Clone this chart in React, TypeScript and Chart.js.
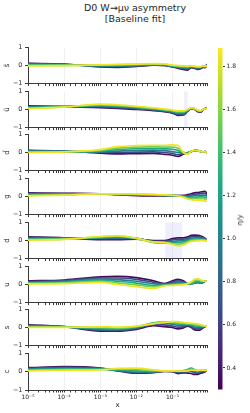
import React, { useEffect, useRef } from 'react';
import { Chart, registerables } from 'chart.js';
Chart.register(...registerables);

// ---------- data ----------
const X_VALUES = [1e-5, 1e-4, 1e-3, 3e-3, 1e-2, 3e-2, 0.06, 0.1, 0.14, 0.2, 0.26, 0.33, 0.4, 0.5, 0.6, 0.7, 0.8, 0.9];
const ETA_VALUES = [0.35, 0.65, 0.95, 1.25, 1.55, 1.85];
const ETA_MIN = 0.3;
const ETA_MAX = 1.885;
const PANEL_LABELS = ['s\u0304', 'u\u0304', 'd\u0304', 'g', 'd', 'u', 's', 'c'];
const Y_TICKS = [-1, 0, 1];
const CB_TICKS = [0.4, 0.6, 0.8, 1.0, 1.2, 1.4, 1.6, 1.8];
const X_MAJOR_LABELS: Record<number, string> = { [-5]: '10⁻⁵', [-4]: '10⁻⁴', [-3]: '10⁻³', [-2]: '10⁻²', [-1]: '10⁻¹' };

const SBAR = [
  [0.12, 0.08, -0.08, -0.1, -0.05, 0.02, 0.0, -0.08, -0.15, -0.22, -0.25, -0.12, -0.15, -0.22, -0.18, -0.1, -0.12, 0.08],
  [0.1, 0.07, -0.05, -0.07, -0.03, 0.03, 0.01, -0.06, -0.12, -0.18, -0.2, -0.1, -0.12, -0.18, -0.15, -0.08, -0.1, 0.05],
  [0.07, 0.05, -0.02, -0.03, 0.0, 0.05, 0.03, -0.04, -0.09, -0.13, -0.14, -0.07, -0.1, -0.14, -0.12, -0.06, -0.08, 0.03],
  [0.04, 0.03, 0.0, 0.01, 0.03, 0.06, 0.05, -0.02, -0.06, -0.09, -0.1, -0.05, -0.08, -0.1, -0.09, -0.05, -0.06, 0.0],
  [0.01, 0.01, 0.02, 0.04, 0.06, 0.08, 0.07, 0.0, -0.03, -0.05, -0.06, -0.03, -0.06, -0.08, -0.07, -0.04, -0.05, -0.02],
  [-0.02, -0.01, 0.03, 0.06, 0.08, 0.1, 0.09, 0.02, 0.0, -0.02, -0.03, -0.02, -0.04, -0.06, -0.06, -0.03, -0.04, -0.04],
];
const UBAR = [
  [0.2, 0.16, 0.1, 0.06, 0.0, -0.06, -0.12, -0.2, -0.32, -0.3, -0.1, 0.05, 0.02, -0.12, -0.15, -0.02, 0.05, 0.12],
  [0.17, 0.16, 0.14, 0.1, 0.04, -0.03, -0.1, -0.17, -0.27, -0.26, -0.08, 0.06, 0.03, -0.1, -0.13, -0.02, 0.05, 0.1],
  [0.14, 0.16, 0.18, 0.14, 0.08, 0.0, -0.07, -0.14, -0.22, -0.22, -0.06, 0.07, 0.04, -0.08, -0.11, -0.01, 0.05, 0.09],
  [0.11, 0.15, 0.22, 0.18, 0.12, 0.03, -0.04, -0.1, -0.17, -0.17, -0.04, 0.08, 0.05, -0.06, -0.09, 0.0, 0.05, 0.08],
  [0.08, 0.14, 0.26, 0.22, 0.15, 0.06, -0.01, -0.06, -0.12, -0.12, -0.02, 0.08, 0.06, -0.05, -0.08, 0.0, 0.05, 0.07],
  [0.05, 0.13, 0.3, 0.26, 0.18, 0.09, 0.02, -0.03, -0.08, -0.08, 0.0, 0.09, 0.06, -0.04, -0.07, 0.0, 0.04, 0.06],
];
const DBAR = [
  [0.12, 0.08, -0.04, -0.08, -0.06, -0.05, -0.1, -0.15, -0.22, -0.1, -0.02, 0.05, 0.1, 0.1, 0.05, 0.02, 0.05, -0.02],
  [0.1, 0.07, 0.0, 0.0, 0.02, 0.03, 0.0, -0.05, -0.12, -0.06, -0.02, 0.05, 0.1, 0.1, 0.05, 0.02, 0.05, -0.02],
  [0.08, 0.06, 0.04, 0.08, 0.12, 0.13, 0.1, 0.05, 0.0, -0.02, -0.03, 0.06, 0.1, 0.1, 0.06, 0.03, 0.05, -0.02],
  [0.05, 0.05, 0.08, 0.16, 0.22, 0.23, 0.2, 0.18, 0.12, 0.0, -0.05, 0.06, 0.1, 0.1, 0.06, 0.03, 0.05, -0.02],
  [0.03, 0.04, 0.12, 0.24, 0.3, 0.32, 0.3, 0.3, 0.25, 0.0, -0.07, 0.06, 0.11, 0.1, 0.06, 0.03, 0.05, -0.02],
  [0.0, 0.03, 0.16, 0.32, 0.38, 0.4, 0.4, 0.42, 0.4, 0.0, -0.1, 0.07, 0.11, 0.1, 0.06, 0.03, 0.05, -0.02],
];
const GLUON = [
  [0.2, 0.18, 0.15, 0.1, 0.05, 0.04, 0.04, 0.05, 0.05, 0.06, 0.1, 0.15, 0.2, 0.22, 0.25, 0.27, 0.28, 0.15],
  [0.16, 0.16, 0.15, 0.11, 0.07, 0.06, 0.05, 0.05, 0.05, 0.04, 0.05, 0.08, 0.12, 0.14, 0.16, 0.18, 0.18, 0.08],
  [0.13, 0.14, 0.15, 0.12, 0.09, 0.07, 0.06, 0.05, 0.04, 0.02, 0.0, 0.02, 0.04, 0.06, 0.07, 0.08, 0.08, 0.0],
  [0.1, 0.12, 0.15, 0.13, 0.1, 0.08, 0.07, 0.06, 0.04, 0.0, -0.05, -0.05, -0.04, -0.03, -0.02, -0.02, -0.04, -0.08],
  [0.07, 0.1, 0.15, 0.14, 0.12, 0.1, 0.08, 0.06, 0.04, -0.02, -0.1, -0.12, -0.12, -0.12, -0.12, -0.12, -0.14, -0.16],
  [0.04, 0.08, 0.15, 0.15, 0.14, 0.11, 0.09, 0.07, 0.04, -0.04, -0.14, -0.18, -0.2, -0.22, -0.22, -0.23, -0.25, -0.25],
];
const DOWN = [
  [0.2, 0.15, 0.05, 0.05, 0.08, 0.0, 0.0, 0.1, 0.15, 0.15, 0.2, 0.28, 0.3, 0.28, 0.25, 0.2, 0.12, 0.02],
  [0.16, 0.14, 0.1, 0.1, 0.1, -0.05, -0.05, 0.03, 0.07, 0.08, 0.12, 0.2, 0.22, 0.2, 0.18, 0.15, 0.09, 0.01],
  [0.12, 0.12, 0.13, 0.15, 0.12, -0.08, -0.1, -0.05, -0.02, 0.0, 0.05, 0.13, 0.15, 0.14, 0.12, 0.1, 0.06, 0.0],
  [0.08, 0.1, 0.16, 0.2, 0.12, -0.1, -0.12, -0.12, -0.1, -0.08, -0.02, 0.06, 0.08, 0.08, 0.07, 0.06, 0.03, 0.0],
  [0.05, 0.08, 0.2, 0.24, 0.12, -0.1, -0.12, -0.18, -0.2, -0.16, -0.08, 0.0, 0.02, 0.03, 0.03, 0.02, 0.01, -0.01],
  [0.02, 0.06, 0.22, 0.27, 0.12, -0.08, -0.1, -0.22, -0.3, -0.25, -0.14, -0.05, -0.03, -0.02, -0.01, -0.01, -0.01, -0.02],
];
const UP = [
  [0.2, 0.25, 0.42, 0.45, 0.38, 0.2, 0.05, 0.2, 0.28, 0.2, 0.05, 0.08, 0.12, 0.15, 0.1, 0.12, 0.18, 0.2],
  [0.16, 0.21, 0.36, 0.36, 0.28, 0.12, 0.02, 0.13, 0.2, 0.15, 0.04, 0.05, 0.1, 0.12, 0.08, 0.12, 0.18, 0.2],
  [0.12, 0.17, 0.3, 0.27, 0.18, 0.04, -0.01, 0.07, 0.12, 0.1, 0.02, 0.03, 0.07, 0.1, 0.07, 0.12, 0.18, 0.19],
  [0.09, 0.13, 0.24, 0.18, 0.08, -0.05, -0.03, 0.02, 0.05, 0.05, 0.02, 0.05, 0.12, 0.16, 0.13, 0.15, 0.19, 0.19],
  [0.06, 0.09, 0.18, 0.09, -0.02, -0.13, -0.05, -0.02, 0.0, 0.01, 0.03, 0.1, 0.2, 0.25, 0.2, 0.18, 0.19, 0.18],
  [0.03, 0.05, 0.12, 0.0, -0.12, -0.22, -0.07, -0.05, -0.03, -0.01, 0.05, 0.15, 0.28, 0.32, 0.26, 0.2, 0.19, 0.17],
];
const STRANGE = [
  [0.15, 0.05, -0.2, -0.2, -0.1, 0.1, 0.05, 0.0, -0.08, -0.02, 0.08, 0.0, -0.12, -0.15, -0.12, -0.02, 0.05, 0.08],
  [0.12, 0.05, -0.15, -0.16, -0.06, 0.16, 0.15, 0.08, 0.02, 0.05, 0.12, 0.05, -0.05, -0.08, -0.06, 0.0, 0.06, 0.08],
  [0.09, 0.04, -0.1, -0.12, -0.02, 0.22, 0.25, 0.18, 0.12, 0.12, 0.15, 0.1, 0.03, 0.0, 0.0, 0.03, 0.07, 0.08],
  [0.06, 0.03, -0.05, -0.08, 0.02, 0.26, 0.3, 0.25, 0.2, 0.18, 0.18, 0.15, 0.1, 0.07, 0.06, 0.06, 0.08, 0.08],
  [0.03, 0.02, 0.0, -0.03, 0.05, 0.24, 0.3, 0.3, 0.26, 0.23, 0.21, 0.2, 0.16, 0.13, 0.11, 0.09, 0.08, 0.08],
  [0.0, 0.01, 0.04, 0.02, 0.08, 0.2, 0.28, 0.33, 0.32, 0.28, 0.24, 0.24, 0.22, 0.2, 0.16, 0.12, 0.09, 0.08],
];
const CHARM = [
  [0.22, 0.28, 0.2, 0.05, -0.08, -0.05, 0.02, 0.0, -0.1, -0.06, -0.08, -0.1, -0.15, -0.15, -0.08, -0.05, 0.0, 0.1],
  [0.18, 0.24, 0.18, 0.06, -0.05, -0.03, 0.03, 0.02, -0.05, -0.02, 0.0, 0.02, -0.05, -0.08, -0.03, 0.0, 0.03, 0.1],
  [0.15, 0.2, 0.16, 0.08, -0.02, -0.01, 0.04, 0.04, 0.0, 0.03, 0.08, 0.12, 0.05, -0.02, 0.02, 0.04, 0.05, 0.1],
  [0.11, 0.16, 0.14, 0.1, 0.04, 0.02, 0.04, 0.05, 0.03, 0.06, 0.12, 0.2, 0.12, 0.04, 0.06, 0.07, 0.06, 0.1],
  [0.08, 0.12, 0.12, 0.14, 0.12, 0.06, 0.05, 0.05, 0.04, 0.05, 0.08, 0.14, 0.1, 0.06, 0.08, 0.08, 0.07, 0.1],
  [0.05, 0.08, 0.1, 0.18, 0.2, 0.1, 0.05, 0.05, 0.04, 0.03, 0.04, 0.08, 0.08, 0.07, 0.09, 0.09, 0.08, 0.1],
];
const PANELS = [SBAR, UBAR, DBAR, GLUON, DOWN, UP, STRANGE, CHARM];
const BANDS: (number[] | null)[] = [null, [0.21, 0.26], null, null, [0.063, 0.185], null, null, null];

// ---------- style ----------
const FONT = 'DejaVu Sans';
const TEXT = '#262626';
const SPINE = '#3a3a3a';
const VIRIDIS = ['#440154', '#482475', '#414487', '#355f8d', '#2a788e', '#21918c', '#22a884', '#44bf70', '#7ad151', '#bddf26', '#fde725'];

function hexToRgb(h: string) {
  return [parseInt(h.slice(1, 3), 16), parseInt(h.slice(3, 5), 16), parseInt(h.slice(5, 7), 16)];
}
function viridis(t: number) {
  const c = Math.max(0, Math.min(1, t)) * (VIRIDIS.length - 1);
  const i = Math.min(VIRIDIS.length - 2, Math.floor(c));
  const f = c - i;
  const a = hexToRgb(VIRIDIS[i]);
  const b = hexToRgb(VIRIDIS[i + 1]);
  const m = a.map((v, k) => Math.round(v + (b[k] - v) * f));
  return `rgb(${m[0]},${m[1]},${m[2]})`;
}

const PLOT_TOP0 = 47;
const PANEL_STEP = 43.7;
const PLOT_H = 37;
const PAD_TOP = 6;
const PLOT_LEFT = 28;
const PLOT_RIGHT = 207;
const CANVAS_W = 215;

const bandPlugin = {
  id: 'band',
  beforeDatasetsDraw(chart: any, _args: any, opts: any) {
    const r = opts && opts.range;
    if (!r) return;
    const { ctx, chartArea, scales } = chart;
    const x0 = scales.x.getPixelForValue(r[0]);
    const x1 = scales.x.getPixelForValue(r[1]);
    ctx.save();
    ctx.fillStyle = 'rgba(120,120,240,0.13)';
    ctx.fillRect(x0, chartArea.top, x1 - x0, chartArea.bottom - chartArea.top);
    ctx.restore();
  },
};

function isMajor(v: number) {
  const l = Math.log10(v);
  return Math.abs(l - Math.round(l)) < 1e-6;
}

function Panel({ index }: { index: number }) {
  const ref = useRef<HTMLCanvasElement>(null);
  const isBottom = index === PANELS.length - 1;
  const xAxisH = isBottom ? 24 : 6;
  const h = PAD_TOP + PLOT_H + xAxisH;
  const top = Math.round(PLOT_TOP0 + PANEL_STEP * index) - PAD_TOP;

  useEffect(() => {
    const rows = PANELS[index];
    const datasets = rows
      .map((row, k) => ({
        data: X_VALUES.map((x, j) => ({ x, y: row[j] })),
        borderColor: viridis((ETA_VALUES[k] - ETA_MIN) / (ETA_MAX - ETA_MIN)),
        borderWidth: 1.7,
        pointRadius: 0,
        cubicInterpolationMode: 'monotone',
        fill: false,
      }))
      .reverse();
    const chart = new Chart(ref.current as HTMLCanvasElement, {
      type: 'line',
      data: { datasets } as any,
      plugins: [bandPlugin as any],
      options: {
        responsive: false,
        animation: false,
        events: [],
        layout: { padding: { top: PAD_TOP, right: CANVAS_W - PLOT_RIGHT, left: 0, bottom: 0 } },
        plugins: {
          legend: { display: false },
          tooltip: { enabled: false },
          band: { range: BANDS[index] },
        } as any,
        scales: {
          x: {
            type: 'logarithmic',
            min: 1e-5,
            max: 0.9,
            afterFit: (s: any) => { s.height = xAxisH; },
            border: { display: true, color: SPINE, width: 1 },
            grid: {
              drawOnChartArea: true,
              color: (ctx: any) => (ctx.tick && isMajor(ctx.tick.value) ? 'rgba(0,0,0,0.06)' : 'rgba(0,0,0,0)'),
              tickColor: SPINE,
              tickLength: 2.5,
              lineWidth: 1,
            },
            ticks: {
              autoSkip: false,
              maxRotation: 0,
              padding: 1,
              color: TEXT,
              font: { family: FONT, size: 6 },
              callback: (v: any) => {
                if (!isBottom) return '';
                const n = Number(v);
                return isMajor(n) ? X_MAJOR_LABELS[Math.round(Math.log10(n))] || '' : '';
              },
            },
            title: {
              display: isBottom,
              text: 'x',
              color: TEXT,
              font: { family: FONT, size: 7 },
              padding: { top: 0, bottom: 5 },
            },
          },
          y: {
            min: -1,
            max: 1,
            afterFit: (s: any) => { s.width = PLOT_LEFT; },
            afterBuildTicks: (s: any) => { s.ticks = Y_TICKS.map((v) => ({ value: v })); },
            border: { display: true, color: SPINE, width: 1 },
            grid: { drawOnChartArea: false, tickColor: SPINE, tickLength: 3 },
            ticks: {
              padding: 2.5,
              color: TEXT,
              font: { family: FONT, size: 6.5 },
              callback: (v: any) => (Number(v) < 0 ? '\u2212' + Math.abs(Number(v)) : String(v)),
            },
            title: {
              display: true,
              text: PANEL_LABELS[index],
              color: TEXT,
              font: { family: FONT, size: 7 },
              padding: { top: 3, bottom: 0 },
            },
          },
        },
      } as any,
    });
    return () => chart.destroy();
  }, [index]);

  return (
    <canvas
      ref={ref}
      width={CANVAS_W}
      height={h}
      style={{ position: 'absolute', left: 0, top, width: CANVAS_W, height: h }}
    />
  );
}

const gradientPlugin = {
  id: 'cbgrad',
  beforeDatasetsDraw(chart: any) {
    const { ctx, chartArea } = chart;
    const g = ctx.createLinearGradient(0, chartArea.bottom, 0, chartArea.top);
    VIRIDIS.forEach((c, i) => g.addColorStop(i / (VIRIDIS.length - 1), c));
    ctx.save();
    ctx.fillStyle = g;
    ctx.fillRect(chartArea.left, chartArea.top, chartArea.right - chartArea.left, chartArea.bottom - chartArea.top);
    ctx.restore();
  },
};

function ColorBar() {
  const ref = useRef<HTMLCanvasElement>(null);
  const W = 38;
  const H = 360;
  useEffect(() => {
    const chart = new Chart(ref.current as HTMLCanvasElement, {
      type: 'scatter',
      data: { datasets: [{ data: [] }] },
      plugins: [gradientPlugin as any],
      options: {
        responsive: false,
        animation: false,
        events: [],
        layout: { padding: { top: 8, bottom: 10.5, left: 6, right: 0 } },
        plugins: { legend: { display: false }, tooltip: { enabled: false } },
        scales: {
          x: { display: false, min: 0, max: 1 },
          y: {
            position: 'right',
            min: ETA_MIN,
            max: ETA_MAX,
            afterFit: (s: any) => { s.width = 27.5; },
            afterBuildTicks: (s: any) => { s.ticks = CB_TICKS.map((v) => ({ value: v })); },
            border: { display: false },
            grid: { drawOnChartArea: false, tickColor: SPINE, tickLength: 2.5 },
            ticks: {
              padding: 1.5,
              color: TEXT,
              font: { family: FONT, size: 6 },
              callback: (v: any) => Number(v).toFixed(1),
            },
          },
        },
      } as any,
    });
    return () => chart.destroy();
  }, []);
  return (
    <canvas ref={ref} width={W} height={H} style={{ position: 'absolute', left: 212, top: 40, width: W, height: H }} />
  );
}

export default function App() {
  return (
    <div style={{ position: 'fixed', left: 0, top: 0, width: 250, height: 413, background: '#fff', fontFamily: FONT, overflow: 'hidden' }}>
      <div style={{ position: 'absolute', left: 10, top: 3, width: 250, textAlign: 'center', fontSize: 9.5, lineHeight: '10.5px', color: TEXT, whiteSpace: 'nowrap' }}>
        D0 W→μν asymmetry<br />[Baseline fit]
      </div>
      {PANEL_LABELS.map((_, i) => (
        <Panel key={i} index={i} />
      ))}
      <ColorBar />
      <div style={{ position: 'absolute', left: 240, top: 220, transform: 'translate(-50%, -50%) rotate(-90deg)', fontSize: 7, color: TEXT, whiteSpace: 'nowrap' }}>
        η/y
      </div>
    </div>
  );
}
